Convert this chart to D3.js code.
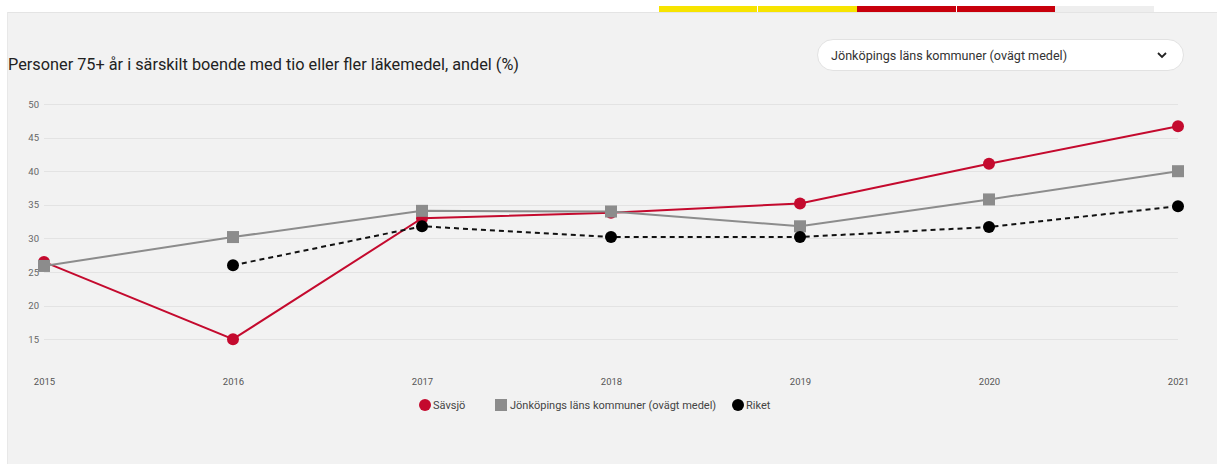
<!DOCTYPE html>
<html>
<head>
<meta charset="utf-8">
<script src="https://cdn.jsdelivr.net/npm/d3@7"></script>
<style>
  html, body { margin: 0; padding: 0; background: #ffffff; }
  svg { display: block; font-family: Roboto, "Noto Sans", sans-serif; }
</style>
</head>
<body>
<svg id="chart" width="1217" height="464"></svg>
<script>
// ---- data ----
const years = [2015, 2016, 2017, 2018, 2019, 2020, 2021];
const savsjo = [26.5, 15.0, 33.0, 33.8, 35.2, 41.1, 46.7];
const jonkoping = [25.9, 30.2, 34.1, 34.0, 31.8, 35.8, 40.0];
const riket = [null, 26.0, 31.8, 30.2, 30.2, 31.7, 34.8];
const yTicks = [15, 20, 25, 30, 35, 40, 45, 50];
const seriesNames = ["Sävsjö", "Jönköpings läns kommuner (ovägt medel)", "Riket"];
const title = "Personer 75+ år i särskilt boende med tio eller fler läkemedel, andel (%)";
const dropdownLabel = "Jönköpings läns kommuner (ovägt medel)";

const svg = d3.select("#chart");

// ---- page chrome ----
svg.append("rect").attr("x", 0).attr("y", 0).attr("width", 1217).attr("height", 464).attr("fill", "#ffffff");
svg.append("rect").attr("x", 7).attr("y", 12).attr("width", 1210).attr("height", 452).attr("fill", "#f2f2f2");
svg.append("line").attr("x1", 7).attr("x2", 1217).attr("y1", 12.5).attr("y2", 12.5).attr("stroke", "#e4e4e4");
svg.append("line").attr("x1", 7.5).attr("x2", 7.5).attr("y1", 12).attr("y2", 464).attr("stroke", "#e8e8e8");

// top coloured bar segments
const topSegs = [
  {x0: 659, x1: 757, c: "#f7e400"},
  {x0: 758, x1: 857, c: "#f7e400"},
  {x0: 857, x1: 956, c: "#c8000c"},
  {x0: 957, x1: 1055, c: "#c8000c"},
  {x0: 1055, x1: 1154, c: "#eeeeee"}
];
svg.selectAll("rect.seg").data(topSegs).enter().append("rect")
  .attr("x", d => d.x0).attr("y", 6).attr("width", d => d.x1 - d.x0).attr("height", 6)
  .attr("fill", d => d.c);

// title
svg.append("text").attr("x", 8).attr("y", 70)
  .attr("font-size", 16.3).attr("fill", "#222").text(title);

// dropdown
const dd = svg.append("g");
dd.append("rect").attr("x", 817.5).attr("y", 39.5).attr("width", 366).attr("height", 31)
  .attr("rx", 15.5).attr("fill", "#ffffff").attr("stroke", "#e2e2e2");
dd.append("text").attr("x", 831).attr("y", 59.5).attr("font-size", 12.6).attr("fill", "#333")
  .text(dropdownLabel);
dd.append("path").attr("d", "M1158,53 L1162,57 L1166,53").attr("fill", "none")
  .attr("stroke", "#222").attr("stroke-width", 1.8);

// ---- scales ----
const x = d3.scalePoint().domain(years).range([44, 1178]);
const y = d3.scaleLinear().domain([10, 50]).range([372.8, 104]);

// gridlines
const grid = svg.append("g");
grid.selectAll("line").data(yTicks).enter().append("line")
  .attr("x1", 44).attr("x2", 1178)
  .attr("y1", d => Math.round(y(d)) + 0.5).attr("y2", d => Math.round(y(d)) + 0.5)
  .attr("stroke", "#e3e3e3").attr("stroke-width", 1);

// y axis labels
const yAxis = d3.axisLeft(y).tickValues(yTicks).tickSize(0).tickPadding(0);
const gy = svg.append("g").attr("transform", "translate(39,0)").call(yAxis);
gy.select(".domain").remove();
gy.selectAll("text").attr("font-size", 9.5).attr("fill", "#666").attr("font-family", "Roboto, sans-serif");

// x axis labels
const xAxis = d3.axisBottom(x).tickSize(0).tickPadding(0).tickFormat(d3.format("d"));
const gx = svg.append("g").attr("transform", "translate(0,378)").call(xAxis);
gx.select(".domain").remove();
gx.selectAll("text").attr("font-size", 9.5).attr("fill", "#555").attr("font-family", "Roboto, sans-serif");

// ---- series ----
const red = "#c40a2e", gray = "#8c8c8c", black = "#000000";
function pts(vals) { return years.map((yr, i) => ({yr, v: vals[i]})).filter(d => d.v != null); }
const line = d3.line().x(d => x(d.yr)).y(d => y(d.v));

// Sävsjö
svg.append("path").datum(pts(savsjo)).attr("d", line).attr("fill", "none")
  .attr("stroke", red).attr("stroke-width", 2);
svg.append("g").selectAll("circle").data(pts(savsjo)).enter().append("circle")
  .attr("cx", d => x(d.yr)).attr("cy", d => y(d.v)).attr("r", 6).attr("fill", red);

// Jönköping
svg.append("path").datum(pts(jonkoping)).attr("d", line).attr("fill", "none")
  .attr("stroke", gray).attr("stroke-width", 2);
svg.append("g").selectAll("rect").data(pts(jonkoping)).enter().append("rect")
  .attr("x", d => x(d.yr) - 6).attr("y", d => y(d.v) - 6).attr("width", 12).attr("height", 12)
  .attr("fill", gray);

// Riket
svg.append("path").datum(pts(riket)).attr("d", line).attr("fill", "none")
  .attr("stroke", "#111").attr("stroke-width", 2).attr("stroke-dasharray", "5,4");
svg.append("g").selectAll("circle").data(pts(riket)).enter().append("circle")
  .attr("cx", d => x(d.yr)).attr("cy", d => y(d.v)).attr("r", 6).attr("fill", black);

// ---- legend ----
const legendItems = [
  {name: seriesNames[0], shape: "circle", color: red, mx: 425, tx: 433},
  {name: seriesNames[1], shape: "square", color: gray, mx: 501, tx: 510},
  {name: seriesNames[2], shape: "circle", color: black, mx: 738, tx: 746}
];
const lg = svg.append("g");
const ly = 405;
legendItems.forEach(it => {
  if (it.shape === "circle") {
    lg.append("circle").attr("cx", it.mx).attr("cy", ly).attr("r", 6).attr("fill", it.color);
  } else {
    lg.append("rect").attr("x", it.mx - 6).attr("y", ly - 6).attr("width", 12).attr("height", 12).attr("fill", it.color);
  }
  lg.append("text").attr("x", it.tx).attr("y", ly + 4).attr("font-size", 11)
    .attr("fill", "#444").text(it.name);
});
</script>
</body>
</html>
